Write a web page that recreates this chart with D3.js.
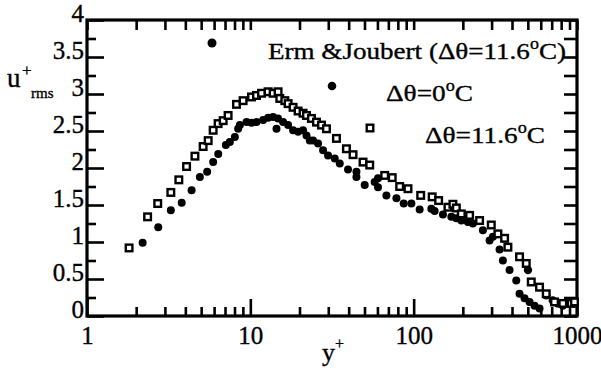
<!DOCTYPE html>
<html>
<head>
<meta charset="utf-8">
<script src="https://cdn.jsdelivr.net/npm/d3@7"></script>
<style>
  body { margin: 0; background: #fff; }
  svg { display: block; }
  svg text { font-family: "Liberation Serif", "Times New Roman", serif; fill: #000; stroke: #000; stroke-width: 0.35px; }
</style>
</head>
<body>
<div id="app"></div>
<script>
// u+rms against y+ (log), three data sets

// dT = 0 C (filled dots)
const yPlusCold = [2.19, 2.73, 3.26, 3.80, 4.37, 4.91, 5.44, 5.92, 6.36, 7.08, 7.49, 8.04, 8.42, 8.63, 9.48,
  10.17, 10.91, 11.98, 12.85, 13.79, 14.79, 14.46, 15.87, 17.03, 18.27, 19.61, 21.03, 22.07, 23.12, 24.22,
  25.98, 27.88, 29.91, 32.87, 35.27, 39.64, 44.63, 44.63, 50.14, 57.73, 60.47, 60.47, 68.08, 78.41, 86.87,
  96.83, 108.8, 128.3, 134.4, 151.1, 170.1, 182.5, 195.8, 214.8, 230.5, 265.4, 291.6, 305.5, 335.7, 351.8,
  386.6, 424.8, 444.9, 477.5, 512.3, 549.7, 589.8]
const uCold = [0.99, 1.20, 1.43, 1.53, 1.70, 1.88, 1.95, 2.08, 2.19, 2.31, 2.35, 2.42, 2.53, 2.58, 2.62,
  2.61, 2.62, 2.65, 2.68, 2.69, 2.67, 2.53, 2.62, 2.58, 2.51, 2.49, 2.51, 2.44, 2.37, 2.37,
  2.33, 2.24, 2.17, 2.13, 2.06, 1.98, 1.95, 1.88, 1.77, 1.81, 1.86, 1.74, 1.63, 1.59, 1.52,
  1.52, 1.44, 1.45, 1.42, 1.37, 1.34, 1.32, 1.29, 1.27, 1.25, 1.16, 1.02, 1.07, 0.90, 0.75,
  0.62, 0.48, 0.30, 0.24, 0.19, 0.14, 0.10]

// dT = 11.6 C (open squares)
const yPlusHeated = [1.81, 2.35, 2.71, 3.26, 3.65, 4.07, 4.58, 5.14, 5.52, 5.92, 6.35, 6.82, 7.31, 8.23, 9.03,
  10.17, 10.91, 11.71, 12.85, 13.79, 14.79, 15.15, 16.26, 17.03, 18.27, 19.61, 21.03, 22.07, 23.67, 25.41,
  27.26, 29.24, 33.67, 38.76, 42.54, 48.97, 53.82, 66.47, 73.9, 82.1, 92.3, 110.4, 129.8, 142.2, 162.1,
  173.9, 182.5, 195.8, 220.0, 253.3, 298.7, 327.9, 360.3, 377.5, 444.9, 489.0, 524.8, 589.8, 648.1, 728.6,
  818.9, 921.6, 965.4]
const uHeated = [0.92, 1.34, 1.52, 1.67, 1.84, 2.02, 2.16, 2.29, 2.37, 2.51, 2.60, 2.64, 2.71, 2.86, 2.91,
  2.96, 2.98, 3.01, 3.03, 3.01, 3.03, 2.94, 2.91, 2.87, 2.82, 2.77, 2.74, 2.71, 2.67, 2.62,
  2.58, 2.53, 2.40, 2.26, 2.18, 2.08, 2.04, 1.90, 1.87, 1.75, 1.72, 1.63, 1.61, 1.56, 1.47,
  1.51, 1.46, 1.38, 1.36, 1.29, 1.23, 1.11, 1.05, 0.93, 0.80, 0.71, 0.46, 0.39, 0.30, 0.19,
  0.17, 0.17, 0.19]

// Erm & Joubert (filled dots, outer region)
const yPlusErm = [501, 590, 648, 711, 764, 819]
const uErm = [0.62, 0.39, 0.28, 0.21, 0.17, 0.14]

const xTickValues = [1, 10, 100, 1000]
const xTickLabels = ["1", "10", "100", "1000"]
const yTickValues = [0, 0.5, 1, 1.5, 2, 2.5, 3, 3.5, 4]
const yTickLabels = ["0", "0.5", "1", "1.5", "2", "2.5", "3", "3.5", "4"]

const W = 601, H = 371
const L = 87, R = 577, T = 20, B = 316

const svg = d3.select("#app").append("svg")
    .attr("width", W)
    .attr("height", H)

const x = d3.scaleLog().domain([1, 1000]).range([L, R])
const y = d3.scaleLinear().domain([0, 4]).range([B, T])

const minorX = []
for (let e = 0; e < 3; e++) for (let k = 2; k <= 9; k++) minorX.push(k * Math.pow(10, e))
const quarterY = d3.range(0, 4.001, 0.25)
const minorY = quarterY.filter(v => Math.abs(v * 2 - Math.round(v * 2)) > 0.01)

function styleAxis(g) {
  g.attr("font-family", null).attr("font-size", null)
  g.select(".domain").remove()
  g.selectAll("line").attr("stroke", "#000").attr("stroke-width", 2.6)
  g.selectAll("text").style("font-size", "25px")
}

// bottom
svg.append("g").attr("transform", `translate(0,${B})`)
  .call(d3.axisBottom(x).tickValues(xTickValues).tickSize(-17).tickPadding(10)
    .tickFormat((d, i) => xTickLabels[i]))
  .call(styleAxis)
svg.append("g").attr("transform", `translate(0,${B})`)
  .call(d3.axisBottom(x).tickValues(minorX).tickSize(-9).tickFormat(""))
  .call(styleAxis)
// top
svg.append("g").attr("transform", `translate(0,${T})`)
  .call(d3.axisTop(x).tickValues(xTickValues.concat(minorX)).tickSize(-10).tickFormat(""))
  .call(styleAxis)
// left
svg.append("g").attr("transform", `translate(${L},0)`)
  .call(d3.axisLeft(y).tickValues(yTickValues).tickSize(-17).tickPadding(3)
    .tickFormat((d, i) => yTickLabels[i]))
  .call(styleAxis)
  .call(g => g.selectAll("text").attr("dy", "0.05em"))
svg.append("g").attr("transform", `translate(${L},0)`)
  .call(d3.axisLeft(y).tickValues(minorY).tickSize(-9).tickFormat(""))
  .call(styleAxis)
// right
svg.append("g").attr("transform", `translate(${R},0)`)
  .call(d3.axisRight(y).tickValues(quarterY).tickSize(-13).tickFormat(""))
  .call(styleAxis)

// frame
svg.append("rect")
    .attr("x", L).attr("y", T)
    .attr("width", R - L).attr("height", B - T)
    .attr("fill", "none")
    .attr("stroke", "#000")
    .attr("stroke-width", 3.2)

// axis titles
const xt = svg.append("text").attr("x", 322).attr("y", 361).style("font-size", "26px")
xt.append("tspan").text("y")
xt.append("tspan").style("font-size", "16px").attr("dy", -12).text("+")

svg.append("text").attr("x", 7).attr("y", 87).style("font-size", "27px").text("u")
svg.append("text").attr("x", 22).attr("y", 76).style("font-size", "17px").text("+")
svg.append("text").attr("x", 31).attr("y", 98).style("font-size", "15px").text("rms")

// data
const marks = svg.append("g")

marks.selectAll("circle.cold")
  .data(d3.zip(yPlusCold, uCold))
  .join("circle")
    .attr("class", "cold")
    .attr("cx", d => x(d[0]))
    .attr("cy", d => y(d[1]))
    .attr("r", 4)
    .attr("fill", "#000")

marks.selectAll("circle.erm")
  .data(d3.zip(yPlusErm, uErm))
  .join("circle")
    .attr("class", "erm")
    .attr("cx", d => x(d[0]))
    .attr("cy", d => y(d[1]))
    .attr("r", 4.2)
    .attr("fill", "#000")

marks.selectAll("rect.heated")
  .data(d3.zip(yPlusHeated, uHeated))
  .join("rect")
    .attr("class", "heated")
    .attr("x", d => x(d[0]) - 3.3)
    .attr("y", d => y(d[1]) - 3.3)
    .attr("width", 6.6)
    .attr("height", 6.6)
    .attr("fill", "#fff")
    .attr("stroke", "#000")
    .attr("stroke-width", 2.4)

// legend
function degLabel(g, px, py, parts, w) {
  const t = g.append("text").attr("x", px).attr("y", py).style("font-size", "24px")
  t.append("tspan").text(parts[0])
  t.append("tspan").style("font-size", "16px").attr("dy", -10).text("o")
  t.append("tspan").attr("dy", 10).text(parts[1])
  t.attr("textLength", w).attr("lengthAdjust", "spacingAndGlyphs")
}
const leg = svg.append("g")
leg.append("circle").attr("cx", 212).attr("cy", 43).attr("r", 4.5).attr("fill", "#000")
degLabel(leg, 268, 59, ["Erm &Joubert (\u0394\u03b8=11.6", "C)"], 298)
leg.append("circle").attr("cx", 332).attr("cy", 86).attr("r", 4.3).attr("fill", "#000")
degLabel(leg, 386, 101, ["\u0394\u03b8=0", "C"], 87)
leg.append("rect").attr("x", 366.7).attr("y", 124.7).attr("width", 6.6).attr("height", 6.6)
  .attr("fill", "#fff").attr("stroke", "#000").attr("stroke-width", 2.4)
degLabel(leg, 425, 143, ["\u0394\u03b8=11.6", "C"], 120)
</script>
</body>
</html>
